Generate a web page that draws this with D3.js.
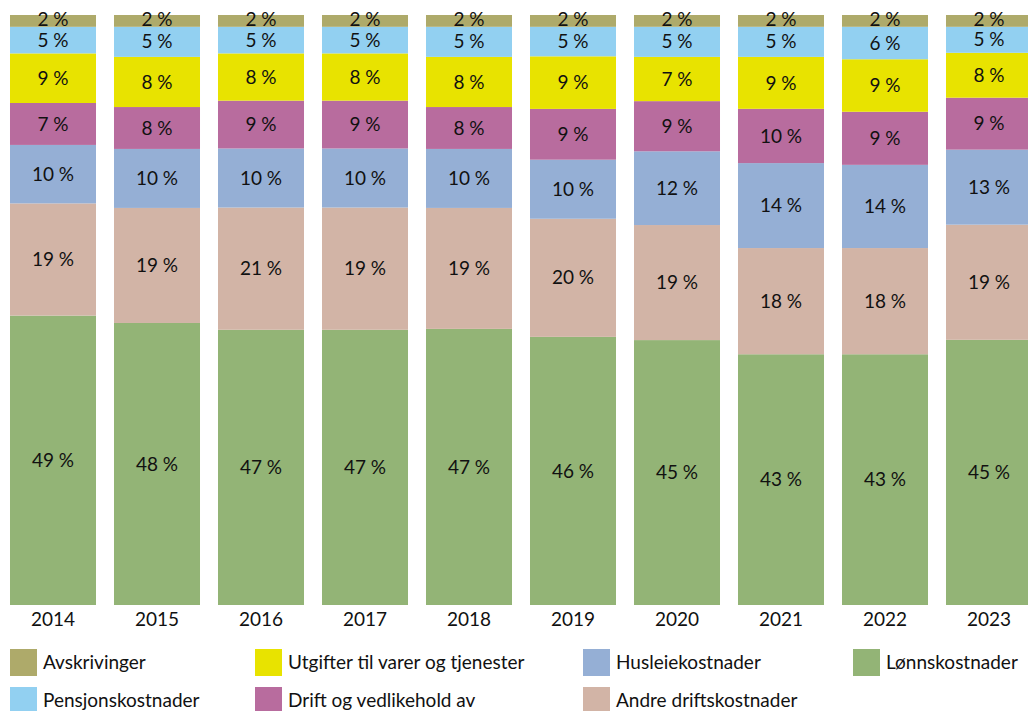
<!DOCTYPE html>
<html>
<head>
<meta charset="utf-8">
<script src="https://cdn.jsdelivr.net/npm/d3@7"></script>
<style>
  body { margin: 0; background: #fff; }
  svg { display: block; font-family: Lato, "Open Sans", sans-serif; }
</style>
</head>
<body>
<svg id="chart" width="1028" height="711"></svg>
<script>
// År og kostnadsandeler (målt fra bildet, i prosent)
const years = ['2014', '2015', '2016', '2017', '2018', '2019', '2020', '2021', '2022', '2023'];

const lonn     = [49.0, 47.8, 46.6, 46.6, 46.8, 45.4, 44.9, 42.5, 42.5, 44.9];
const andre    = [19.0, 19.5, 20.7, 20.7, 20.5, 20.0, 19.5, 18.0, 18.0, 19.5];
const husleie  = [9.9, 10.0, 10.0, 10.0, 10.0, 10.0, 12.5, 14.4, 14.1, 12.7];
const drift    = [7.1, 7.1, 8.1, 8.1, 7.1, 8.6, 8.5, 9.2, 9.0, 8.8];
const varer    = [8.4, 8.5, 8.0, 8.0, 8.5, 8.9, 7.5, 8.8, 8.9, 7.6];
const pensjon  = [4.5, 5.1, 4.5, 4.5, 5.1, 5.0, 5.1, 5.1, 5.5, 4.4];
const avskr    = [2.0, 2.0, 2.0, 2.0, 2.0, 2.0, 2.0, 2.0, 2.0, 2.0];

// Tallene som står skrevet i søylene
const lonnLbl    = [49, 48, 47, 47, 47, 46, 45, 43, 43, 45];
const andreLbl   = [19, 19, 21, 19, 19, 20, 19, 18, 18, 19];
const husleieLbl = [10, 10, 10, 10, 10, 10, 12, 14, 14, 13];
const driftLbl   = [7, 8, 9, 9, 8, 9, 9, 10, 9, 9];
const varerLbl   = [9, 8, 8, 8, 8, 9, 7, 9, 9, 8];
const pensjonLbl = [5, 5, 5, 5, 5, 5, 5, 5, 6, 5];
const avskrLbl   = [2, 2, 2, 2, 2, 2, 2, 2, 2, 2];

// Serier nedenfra og opp
const series = [
  { key: 'lonn',    name: 'Lønnskostnader',                  color: '#93b476', values: lonn,    labels: lonnLbl },
  { key: 'andre',   name: 'Andre driftskostnader',           color: '#d2b4a6', values: andre,   labels: andreLbl },
  { key: 'husleie', name: 'Husleiekostnader',                color: '#95afd5', values: husleie, labels: husleieLbl },
  { key: 'drift',   name: 'Drift og vedlikehold av',         color: '#b86c9e', values: drift,   labels: driftLbl },
  { key: 'varer',   name: 'Utgifter til varer og tjenester', color: '#e8e300', values: varer,   labels: varerLbl },
  { key: 'pensjon', name: 'Pensjonskostnader',               color: '#92d0f1', values: pensjon, labels: pensjonLbl },
  { key: 'avskr',   name: 'Avskrivinger',                    color: '#aeaa6a', values: avskr,   labels: avskrLbl },
];

const legendOrder = ['avskr', 'varer', 'husleie', 'lonn', 'pensjon', 'drift', 'andre'];

///////////////////////////////////////////////////
// Tegning
///////////////////////////////////////////////////

const svg = d3.select('#chart');
const fontSize = 19;

const table = years.map((y, i) => {
  const row = { year: y };
  series.forEach((s) => (row[s.key] = s.values[i]));
  return row;
});

const stacked = d3
  .stack()
  .keys(series.map((s) => s.key))
  .offset(d3.stackOffsetExpand)(table);

const x = d3.scaleBand().domain(years).range([1, 1041]).paddingInner(0.173).paddingOuter(0.0865);
const y = d3.scaleLinear().domain([0, 1]).range([605, 15]);

const layers = svg
  .selectAll('g.layer')
  .data(stacked)
  .join('g')
  .attr('class', 'layer')
  .attr('fill', (d, i) => series[i].color);

layers
  .selectAll('rect')
  .data((d) => d)
  .join('rect')
  .attr('x', (d) => x(d.data.year))
  .attr('width', x.bandwidth())
  .attr('y', (d) => y(d[1]))
  .attr('height', (d) => y(d[0]) - y(d[1]));

// Verdietiketter; den øverste (2 %) står litt høyere, som i originalen
layers
  .selectAll('text')
  .data((d, i) => d.map((p, j) => ({ p, label: series[i].labels[j], top: i === series.length - 1 })))
  .join('text')
  .attr('x', (d) => x(d.p.data.year) + x.bandwidth() / 2)
  .attr('y', (d) => (y(d.p[0]) + y(d.p[1])) / 2 - (d.top ? 1.5 : 0))
  .attr('dy', '0.35em')
  .attr('text-anchor', 'middle')
  .attr('font-size', fontSize)
  .attr('fill', '#111')
  .text((d) => `${d.label} %`);

// x-akse med årstall
const xAxis = svg
  .append('g')
  .attr('transform', 'translate(0,605)')
  .call(d3.axisBottom(x).tickSize(0).tickPadding(8));
xAxis.select('.domain').remove();
xAxis.selectAll('text').attr('font-size', fontSize).attr('font-family', 'Lato, sans-serif').attr('fill', '#111');

// Tegnforklaring, 4 kolonner
const colX = [10, 255, 583, 853];
const rowY = [649, 687];
const legend = svg
  .selectAll('g.legend')
  .data(legendOrder.map((k) => series.find((s) => s.key === k)))
  .join('g')
  .attr('class', 'legend')
  .attr('transform', (d, i) => `translate(${colX[i % 4]},${rowY[Math.floor(i / 4)]})`);

legend.append('rect').attr('width', 27).attr('height', 27).attr('fill', (d) => d.color);

legend
  .append('text')
  .attr('x', 33)
  .attr('y', 13.5)
  .attr('dy', '0.35em')
  .attr('font-size', fontSize)
  .attr('fill', '#111')
  .text((d) => d.name);
</script>
</body>
</html>
